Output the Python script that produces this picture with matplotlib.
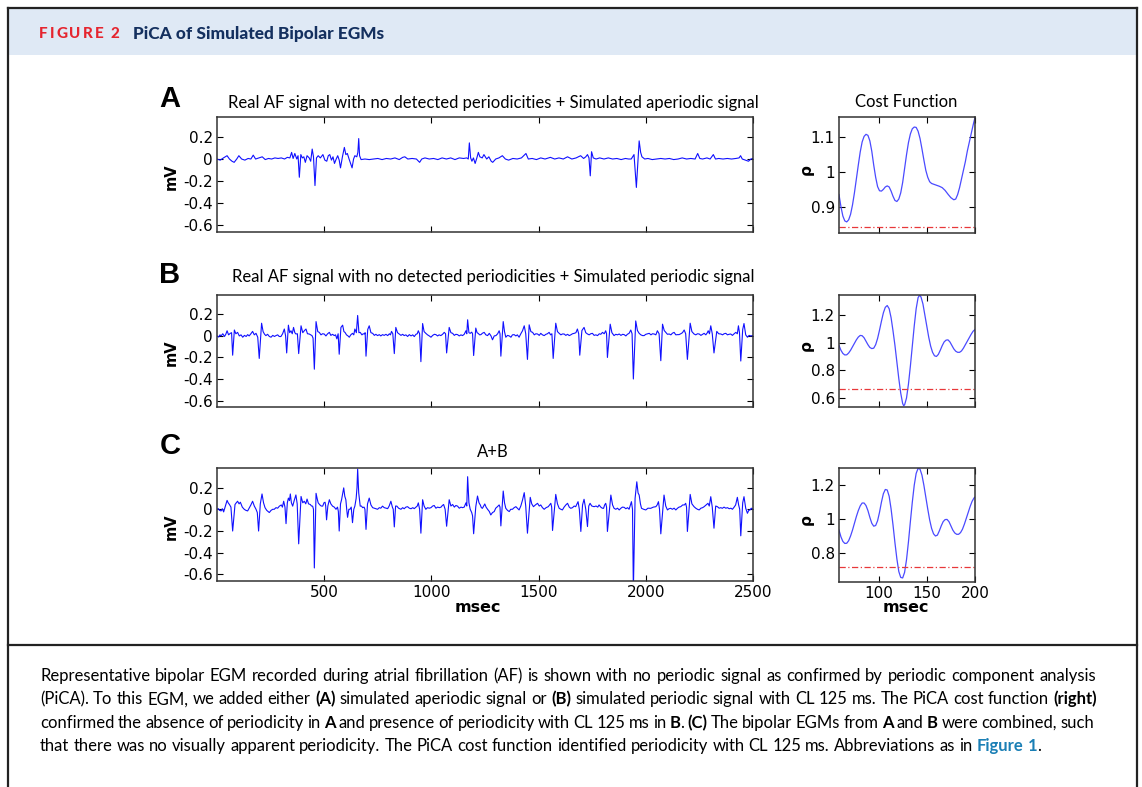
import matplotlib
matplotlib.use('Agg')
import matplotlib.pyplot as plt
from matplotlib.lines import Line2D
from matplotlib.patches import Rectangle

W, H = 1142, 787

# ---- data (t in msec, v in mV) ----
egm_a = [(0, 0.0), (15, -0.01), (30, 0.01), (47, 0.03), (58, 0.0), (70, -0.02), (80, -0.03), (92, 0.0),
         (102, 0.03), (115, 0.0), (130, -0.01), (145, 0.005), (158, 0.0), (169, 0.035), (180, 0.0), (195, 0.01),
         (211, 0.02), (225, -0.005), (240, 0.005), (255, 0.0), (270, 0.01), (285, 0.005), (300, 0.01), (315, 0.0),
         (328, 0.015), (340, 0.01), (348, 0.06), (355, 0.005), (363, 0.05), (372, 0.0), (378, 0.03), (384, -0.165),
         (391, 0.04), (398, 0.01), (405, 0.02), (412, -0.03), (420, 0.03), (430, 0.01), (437, -0.02), (444, 0.09),
         (450, 0.02), (457, -0.24), (464, 0.01), (472, 0.03), (482, 0.01), (494, 0.04), (503, -0.01), (512, -0.02),
         (519, 0.03), (526, 0.04), (534, -0.01), (541, 0.02), (548, -0.04), (556, 0.0), (563, 0.03), (570, -0.01),
         (576, -0.08), (585, 0.02), (594, 0.105), (601, 0.04), (608, 0.05), (616, 0.0), (623, -0.04), (630, -0.08),
         (637, 0.0), (643, 0.03), (652, 0.02), (657, 0.06), (661, 0.185), (665, 0.03), (672, -0.005), (690, 0.0),
         (710, -0.005), (730, 0.0), (750, 0.005), (770, -0.005), (790, 0.005), (810, 0.0), (830, 0.01), (850, -0.005),
         (866, 0.015), (876, 0.02), (890, 0.0), (910, 0.005), (930, 0.0), (945, -0.03), (955, 0.0), (970, 0.01),
         (990, 0.0), (1010, 0.005), (1030, -0.005), (1050, 0.01), (1070, 0.0), (1090, 0.01), (1110, -0.005),
         (1130, 0.01), (1150, 0.005), (1165, 0.01), (1172, 0.0), (1177, 0.146), (1183, 0.01), (1189, -0.02),
         (1196, 0.01), (1204, -0.04), (1212, 0.01), (1219, 0.06), (1226, 0.02), (1237, 0.01), (1245, 0.04),
         (1258, 0.0), (1268, 0.02), (1279, -0.02), (1286, -0.03), (1300, 0.0), (1315, 0.01), (1331, 0.03),
         (1345, 0.0), (1360, -0.01), (1380, 0.005), (1400, 0.0), (1420, 0.01), (1441, 0.05), (1452, 0.0),
         (1470, 0.005), (1490, -0.005), (1510, 0.01), (1530, 0.0), (1555, 0.015), (1575, 0.0), (1595, 0.01),
         (1615, 0.0), (1635, 0.02), (1655, 0.0), (1675, 0.01), (1696, 0.03), (1710, 0.005), (1720, 0.02),
         (1728, 0.04), (1735, 0.01), (1741, -0.152), (1747, 0.066), (1755, 0.01), (1768, 0.0), (1785, 0.01),
         (1805, 0.0), (1825, 0.01), (1845, 0.0), (1865, 0.005), (1885, -0.005), (1905, 0.005), (1920, 0.0),
         (1932, 0.0), (1945, 0.04), (1956, -0.257), (1969, 0.164), (1976, 0.06), (1982, 0.02), (1995, 0.0),
         (2010, 0.005), (2030, -0.005), (2050, 0.0), (2070, 0.005), (2090, 0.0), (2110, 0.005), (2130, -0.005),
         (2150, 0.0), (2170, 0.01), (2190, 0.0), (2210, 0.005), (2230, 0.0), (2242, 0.05), (2252, 0.005),
         (2265, 0.0), (2285, 0.01), (2300, 0.0), (2315, 0.04), (2325, 0.0), (2340, 0.005), (2360, 0.0),
         (2380, 0.005), (2400, 0.0), (2420, 0.005), (2435, 0.01), (2442, 0.03), (2450, 0.0), (2465, -0.01),
         (2479, -0.02), (2490, 0.0), (2500, 0.005)]

egm_b = [(0, 0.0), (8, -0.01), (14, 0.01), (19, 0.0), (27, 0.02), (35, -0.005), (41, 0.015), (47, 0.048),
         (54, 0.01), (62, 0.024), (68, 0.03), (73, -0.179), (81, 0.055), (88, 0.02), (96, 0.033), (104, 0.0),
         (112, 0.01), (120, -0.012), (128, 0.005), (136, -0.005), (143, 0.012), (150, 0.0), (158, 0.02),
         (166, 0.042), (174, 0.01), (182, 0.024), (190, -0.012), (197, -0.209), (208, 0.118), (215, 0.04),
         (222, 0.015), (228, 0.003), (236, 0.015), (244, -0.005), (252, -0.012), (260, 0.005), (268, -0.005),
         (275, 0.003), (283, 0.01), (290, -0.005), (298, -0.006), (306, 0.02), (314, 0.064), (320, 0.0),
         (325, -0.158), (333, 0.1), (339, 0.03), (345, 0.048), (351, 0.02), (357, 0.079), (363, 0.03),
         (368, 0.018), (375, 0.02), (381, -0.164), (392, 0.094), (400, 0.03), (408, 0.05), (415, 0.064),
         (422, 0.02), (430, 0.018), (437, 0.01), (443, 0.003), (448, -0.02), (454, -0.309), (462, 0.133),
         (470, 0.04), (477, 0.033), (485, 0.01), (492, 0.02), (500, 0.018), (508, 0.0), (516, 0.02), (524, 0.033),
         (531, 0.005), (539, 0.015), (547, 0.003), (553, 0.01), (559, -0.027), (565, 0.02), (570, -0.17),
         (578, 0.079), (586, 0.1), (592, 0.04), (597, 0.033), (604, 0.01), (611, 0.0), (617, -0.012), (624, 0.01),
         (632, 0.024), (638, 0.01), (643, 0.064), (650, 0.03), (656, 0.19), (662, 0.03), (668, 0.033), (676, 0.01),
         (682, 0.02), (687, 0.018), (691, 0.03), (695, -0.188), (703, 0.06), (710, 0.094), (718, 0.03),
         (726, 0.024), (734, 0.005), (741, 0.015), (749, 0.003), (757, 0.012), (764, 0.0), (772, 0.012),
         (780, 0.005), (788, 0.015), (796, 0.003), (804, 0.02), (809, 0.01), (814, 0.042), (820, 0.02),
         (827, -0.164), (834, 0.079), (842, 0.03), (850, 0.018), (858, 0.005), (866, 0.015), (873, 0.003),
         (881, 0.01), (889, -0.005), (897, 0.012), (905, 0.0), (913, 0.01), (920, -0.006), (928, 0.015),
         (934, 0.02), (939, 0.048), (945, 0.02), (951, -0.239), (959, 0.115), (966, 0.04), (974, 0.024),
         (982, 0.01), (990, 0.0), (998, -0.012), (1006, 0.005), (1014, 0.015), (1021, 0.012), (1029, 0.0),
         (1036, 0.01), (1044, 0.003), (1052, 0.015), (1060, 0.033), (1066, 0.02), (1071, -0.158), (1083, 0.079),
         (1091, 0.03), (1099, 0.024), (1107, 0.005), (1114, 0.015), (1122, 0.012), (1130, 0.0), (1138, 0.01),
         (1145, 0.003), (1153, 0.015), (1161, 0.048), (1165, 0.02), (1169, 0.15), (1175, 0.03), (1181, 0.024),
         (1188, 0.035), (1192, 0.02), (1197, -0.182), (1207, 0.073), (1213, 0.03), (1218, 0.024), (1225, 0.01),
         (1231, 0.012), (1238, 0.025), (1246, 0.033), (1254, 0.01), (1262, 0.003), (1270, 0.024), (1278, 0.0),
         (1285, -0.036), (1293, 0.0), (1301, 0.003), (1309, 0.02), (1316, 0.048), (1320, 0.02), (1324, -0.188),
         (1335, 0.133), (1341, 0.04), (1347, -0.012), (1355, 0.005), (1363, 0.0), (1371, -0.012), (1378, 0.01),
         (1386, 0.012), (1394, 0.0), (1401, 0.01), (1409, -0.012), (1417, 0.02), (1425, 0.048), (1433, 0.094),
         (1440, 0.02), (1448, -0.218), (1456, 0.103), (1464, 0.04), (1472, 0.033), (1480, 0.01), (1487, 0.02),
         (1495, 0.018), (1503, 0.005), (1510, 0.024), (1518, 0.01), (1526, 0.003), (1534, 0.015), (1541, 0.02),
         (1549, 0.033), (1556, 0.01), (1562, 0.02), (1568, -0.209), (1580, 0.118), (1588, 0.04), (1596, 0.024),
         (1604, 0.01), (1611, 0.018), (1619, 0.018), (1627, 0.005), (1635, 0.015), (1643, 0.003), (1650, 0.01),
         (1658, 0.02), (1666, 0.024), (1674, 0.03), (1681, 0.064), (1687, 0.02), (1692, -0.179), (1702, 0.05),
         (1712, 0.079), (1720, 0.03), (1728, 0.018), (1736, 0.01), (1743, 0.02), (1751, 0.024), (1759, 0.005),
         (1767, 0.01), (1775, 0.003), (1783, 0.02), (1790, 0.015), (1798, 0.033), (1806, 0.02), (1813, 0.048),
         (1817, 0.02), (1821, -0.2), (1834, 0.109), (1842, 0.03), (1852, 0.003), (1860, 0.015), (1868, 0.01),
         (1876, 0.018), (1884, 0.005), (1892, 0.015), (1899, 0.012), (1907, 0.0), (1914, 0.015), (1922, 0.024),
         (1930, 0.055), (1936, 0.02), (1942, -0.4), (1953, 0.139), (1961, 0.05), (1969, 0.024), (1977, 0.01),
         (1985, 0.003), (1992, 0.003), (2000, 0.015), (2008, 0.02), (2016, 0.024), (2024, 0.01), (2031, 0.02),
         (2039, 0.018), (2047, 0.01), (2054, 0.048), (2062, 0.02), (2070, -0.23), (2078, 0.109), (2086, 0.05),
         (2093, 0.033), (2101, 0.015), (2109, 0.018), (2117, 0.01), (2124, 0.025), (2132, 0.033), (2140, 0.01),
         (2148, 0.012), (2155, 0.012), (2163, 0.02), (2171, 0.03), (2179, 0.055), (2186, 0.02), (2194, -0.218),
         (2207, 0.118), (2215, 0.04), (2225, 0.018), (2233, 0.01), (2241, 0.02), (2249, 0.018), (2257, 0.005),
         (2265, 0.015), (2272, 0.024), (2280, 0.01), (2287, 0.03), (2291, 0.048), (2297, 0.02), (2303, 0.094),
         (2310, 0.02), (2318, -0.158), (2331, 0.042), (2340, 0.02), (2350, 0.018), (2358, 0.01), (2365, 0.02),
         (2373, 0.024), (2381, 0.01), (2388, 0.015), (2396, 0.018), (2404, 0.005), (2412, 0.02), (2420, 0.033),
         (2427, 0.02), (2432, 0.094), (2437, 0.03), (2443, -0.233), (2452, 0.06), (2458, 0.115), (2466, 0.01),
         (2474, -0.012), (2482, 0.005), (2490, 0.0), (2497, 0.003), (2500, 0.0)]

egm_c = [(0, 0.0), (6, 0.006), (12, -0.01), (19, -0.015), (25, 0.005), (31, -0.024), (39, 0.03), (47, 0.082),
         (52, 0.06), (58, 0.044), (65, 0.02), (73, -0.2), (84, 0.044), (90, 0.06), (96, 0.074), (103, 0.05),
         (109, 0.065), (118, 0.02), (127, 0.0), (135, -0.01), (143, -0.015), (150, 0.01), (158, 0.04), (166, 0.074),
         (174, 0.03), (182, 0.0), (188, -0.03), (194, -0.2), (202, 0.05), (210, 0.141), (217, 0.06), (224, 0.015),
         (232, -0.01), (238, -0.02), (244, -0.03), (252, -0.01), (260, 0.0), (267, 0.0), (275, 0.015), (283, 0.01),
         (291, 0.029), (300, 0.04), (305, 0.02), (311, 0.074), (317, 0.02), (322, -0.132), (328, 0.06), (333, 0.103),
         (338, 0.08), (342, 0.141), (347, 0.06), (353, 0.029), (360, 0.08), (368, 0.132), (374, 0.05), (381, -0.318),
         (392, 0.118), (400, 0.06), (407, 0.074), (414, 0.05), (420, 0.094), (427, 0.05), (435, 0.044), (441, 0.03),
         (446, 0.029), (450, 0.0), (454, -0.54), (462, 0.147), (467, 0.1), (472, 0.059), (480, 0.04), (486, 0.03),
         (493, 0.029), (499, 0.06), (504, 0.065), (507, 0.03), (511, -0.097), (517, 0.03), (524, 0.088), (531, 0.05),
         (539, 0.029), (547, 0.02), (555, 0.0), (562, 0.02), (566, -0.02), (570, -0.2), (576, 0.05), (581, 0.088),
         (586, 0.14), (591, 0.197), (596, 0.12), (601, 0.088), (605, 0.0), (609, -0.074), (615, 0.0), (620, 0.0),
         (626, 0.02), (632, -0.123), (638, 0.0), (643, 0.029), (649, 0.1), (653, 0.2), (656, 0.37), (661, 0.15),
         (668, 0.029), (674, 0.03), (679, 0.015), (686, 0.02), (690, 0.0), (695, -0.185), (702, 0.05), (710, 0.103),
         (718, 0.04), (726, 0.015), (734, 0.01), (741, 0.005), (749, 0.0), (757, 0.015), (764, 0.01), (772, 0.029),
         (780, 0.015), (788, 0.01), (796, 0.006), (803, 0.03), (811, 0.074), (818, 0.02), (822, 0.0), (827, -0.162),
         (833, 0.03), (839, 0.029), (847, 0.01), (858, 0.0), (866, 0.015), (873, 0.005), (881, 0.02), (889, 0.024),
         (897, 0.01), (905, 0.005), (913, 0.015), (920, 0.006), (928, 0.02), (934, 0.03), (939, 0.059), (945, 0.0),
         (951, -0.22), (959, 0.088), (966, 0.03), (974, 0.0), (982, 0.015), (990, 0.01), (998, 0.015), (1006, 0.03),
         (1013, 0.035), (1021, 0.01), (1029, 0.02), (1037, 0.015), (1045, 0.02), (1051, 0.035), (1057, 0.044),
         (1064, 0.0), (1071, -0.156), (1083, 0.088), (1091, 0.03), (1099, 0.044), (1107, 0.02), (1114, 0.035),
         (1122, 0.029), (1130, 0.01), (1138, 0.02), (1145, 0.015), (1153, 0.02), (1161, 0.059), (1165, 0.03),
         (1169, 0.3), (1175, 0.06), (1181, 0.0), (1188, -0.03), (1192, -0.06), (1197, -0.225), (1207, 0.024),
         (1215, 0.122), (1222, 0.06), (1228, 0.04), (1233, 0.015), (1238, 0.009), (1244, 0.03), (1249, 0.049),
         (1255, 0.02), (1262, 0.0), (1270, -0.02), (1277, -0.052), (1285, -0.03), (1293, -0.021), (1300, 0.01),
         (1308, 0.024), (1316, 0.04), (1320, 0.02), (1324, -0.153), (1335, 0.168), (1341, 0.06), (1347, 0.009),
         (1355, -0.01), (1363, -0.021), (1370, 0.0), (1378, 0.0), (1386, 0.015), (1394, 0.024), (1401, 0.01),
         (1409, -0.006), (1417, 0.03), (1425, 0.085), (1433, 0.153), (1440, 0.03), (1448, -0.22), (1461, 0.11),
         (1468, 0.05), (1476, 0.024), (1485, 0.04), (1495, 0.055), (1503, 0.03), (1510, 0.04), (1518, 0.015),
         (1526, 0.0), (1535, 0.015), (1545, 0.024), (1551, 0.04), (1557, 0.055), (1561, 0.02), (1565, -0.195),
         (1580, 0.137), (1588, 0.05), (1596, 0.009), (1604, 0.0), (1611, -0.006), (1619, 0.02), (1627, 0.04),
         (1635, 0.055), (1643, 0.02), (1650, 0.009), (1658, 0.015), (1666, 0.03), (1673, 0.024), (1679, 0.05),
         (1684, 0.07), (1690, 0.0), (1697, -0.204), (1705, 0.04), (1712, 0.092), (1720, 0.0), (1728, -0.159),
         (1734, 0.03), (1740, 0.055), (1748, 0.03), (1759, 0.024), (1768, 0.03), (1776, 0.02), (1782, 0.04),
         (1790, 0.02), (1797, 0.01), (1803, 0.009), (1808, 0.04), (1813, 0.055), (1817, 0.02), (1821, -0.204),
         (1837, 0.131), (1845, 0.04), (1852, 0.009), (1860, 0.0), (1868, 0.01), (1876, -0.006), (1884, 0.01),
         (1891, 0.02), (1899, 0.018), (1907, 0.005), (1915, 0.015), (1922, 0.0), (1928, 0.04), (1933, 0.07),
         (1938, 0.0), (1942, -0.75), (1950, 0.1), (1958, 0.253), (1964, 0.15), (1969, 0.131), (1975, 0.05),
         (1980, 0.009), (1990, 0.0), (2000, -0.006), (2010, 0.01), (2023, 0.009), (2035, 0.02), (2047, 0.024),
         (2053, 0.04), (2059, 0.07), (2064, 0.0), (2070, -0.226), (2085, 0.131), (2093, 0.03), (2101, -0.006),
         (2108, 0.005), (2116, 0.009), (2124, 0.0), (2132, 0.01), (2140, -0.006), (2148, 0.01), (2155, 0.02),
         (2163, 0.024), (2172, 0.04), (2180, 0.04), (2186, 0.055), (2190, 0.02), (2194, -0.204), (2207, 0.137),
         (2215, 0.05), (2225, 0.024), (2233, 0.01), (2241, 0.0), (2249, -0.006), (2257, 0.01), (2265, 0.015),
         (2272, 0.024), (2281, 0.04), (2290, 0.055), (2296, 0.03), (2303, 0.116), (2310, 0.02), (2318, -0.174),
         (2326, 0.03), (2334, 0.024), (2342, 0.01), (2350, 0.015), (2357, 0.009), (2365, 0.02), (2373, 0.01),
         (2381, 0.015), (2389, 0.005), (2397, 0.01), (2404, 0.0), (2412, 0.02), (2419, 0.04), (2427, 0.11),
         (2433, 0.04), (2438, 0.0), (2443, -0.244), (2452, 0.06), (2458, 0.116), (2466, 0.01), (2474, -0.037),
         (2480, -0.01), (2486, -0.006), (2492, 0.01), (2497, 0.0), (2500, 0.005)]

# PiCA cost function (lag in msec, rho)
cost_a = [(59, 0.935), (61, 0.90), (63, 0.873), (65, 0.859), (67, 0.856), (69, 0.862), (71, 0.878), (73, 0.905),
          (75, 0.94), (77, 0.98), (79, 1.02), (81, 1.058), (83, 1.087), (85, 1.103), (87, 1.109), (89, 1.106),
          (91, 1.09), (93, 1.06), (95, 1.02), (97, 0.985), (99, 0.958), (101, 0.946), (103, 0.945), (105, 0.95),
          (107, 0.957), (109, 0.96), (111, 0.957), (113, 0.945), (115, 0.93), (117, 0.918), (119, 0.915),
          (121, 0.922), (123, 0.94), (125, 0.97), (127, 1.01), (129, 1.05), (131, 1.085), (133, 1.11), (135, 1.125),
          (137, 1.13), (139, 1.129), (141, 1.118), (143, 1.097), (145, 1.067), (147, 1.035), (149, 1.005),
          (151, 0.985), (153, 0.972), (155, 0.967), (157, 0.965), (160, 0.962), (163, 0.959), (166, 0.955),
          (169, 0.947), (172, 0.936), (175, 0.926), (178, 0.92), (180, 0.922), (182, 0.935), (184, 0.955),
          (186, 0.98), (188, 1.005), (190, 1.03), (192, 1.06), (194, 1.085), (196, 1.11), (198, 1.135), (200, 1.158)]

cost_b = [(59, 0.98), (61, 0.945), (63, 0.922), (65, 0.911), (67, 0.912), (69, 0.925), (71, 0.945), (73, 0.97),
          (75, 0.995), (77, 1.02), (79, 1.04), (81, 1.052), (83, 1.05), (85, 1.035), (87, 1.01), (89, 0.985),
          (91, 0.965), (93, 0.957), (95, 0.96), (97, 0.985), (99, 1.03), (101, 1.09), (103, 1.155), (105, 1.215),
          (107, 1.255), (109, 1.268), (111, 1.245), (113, 1.18), (115, 1.085), (117, 0.98), (119, 0.86), (121, 0.74),
          (123, 0.635), (125, 0.56), (126, 0.545), (127, 0.55), (129, 0.6), (131, 0.7), (133, 0.83), (135, 0.975),
          (137, 1.12), (139, 1.245), (141, 1.325), (142.5, 1.342), (144, 1.33), (146, 1.28), (148, 1.2), (150, 1.12),
          (152, 1.04), (154, 0.975), (156, 0.93), (158, 0.905), (160, 0.9), (162, 0.915), (164, 0.945), (166, 0.978),
          (168, 1.005), (170, 1.018), (172, 1.02), (174, 1.005), (176, 0.98), (178, 0.955), (180, 0.938),
          (182, 0.93), (184, 0.93), (186, 0.94), (188, 0.96), (190, 0.985), (192, 1.01), (194, 1.035), (196, 1.06),
          (198, 1.082), (200, 1.095)]

cost_c = [(59, 0.935), (61, 0.895), (63, 0.868), (65, 0.856), (67, 0.857), (69, 0.872), (71, 0.9), (73, 0.935),
          (75, 0.975), (77, 1.015), (79, 1.05), (81, 1.078), (83, 1.095), (85, 1.095), (87, 1.08), (89, 1.05),
          (91, 1.01), (93, 0.975), (95, 0.958), (97, 0.962), (99, 0.99), (101, 1.04), (103, 1.1), (105, 1.15),
          (107, 1.175), (109, 1.172), (111, 1.135), (113, 1.06), (115, 0.965), (117, 0.86), (119, 0.765),
          (121, 0.69), (123, 0.655), (125, 0.652), (127, 0.685), (129, 0.76), (131, 0.865), (133, 0.985), (135, 1.1),
          (137, 1.2), (139, 1.27), (141, 1.3), (143, 1.295), (145, 1.26), (147, 1.2), (149, 1.13), (151, 1.06),
          (153, 0.995), (155, 0.945), (157, 0.913), (159, 0.9), (161, 0.905), (163, 0.93), (165, 0.96), (167, 0.985),
          (169, 0.997), (171, 0.998), (173, 0.985), (175, 0.96), (177, 0.935), (179, 0.918), (181, 0.91), (183, 0.91),
          (185, 0.92), (187, 0.94), (189, 0.97), (191, 1.005), (193, 1.04), (195, 1.075), (197, 1.105), (199, 1.125),
          (200, 1.13)]

thresholds = [0.841, 0.665, 0.717]

panel_titles = ['Real AF signal with no detected periodicities + Simulated aperiodic signal',
                'Real AF signal with no detected periodicities + Simulated periodic signal',
                'A+B']
panel_letters = ['A', 'B', 'C']

egm_yticks = [-0.6, -0.4, -0.2, 0, 0.2]
egm_yticklabels = ['-0.6', '-0.4', '-0.2', '0', '0.2']
egm_xticks = [500, 1000, 1500, 2000, 2500]
cost_yticks = [[0.9, 1, 1.1], [0.6, 0.8, 1, 1.2], [0.8, 1, 1.2]]
cost_yticklabels = [['0.9', '1', '1.1'], ['0.6', '0.8', '1', '1.2'], ['0.8', '1', '1.2']]
cost_ylims = [(0.824, 1.159), (0.535, 1.344), (0.628, 1.302)]
cost_xticks = [100, 150, 200]

caption_lines = [
    [("Representative bipolar EGM recorded during atrial fibrillation (AF) is shown with no periodic signal "
      "as confirmed by periodic component analysis", False, 'k')],
    [("(PiCA). To this EGM, we added either ", False, 'k'), ("(A)", True, 'k'),
     (" simulated aperiodic signal or ", False, 'k'), ("(B)", True, 'k'),
     (" simulated periodic signal with CL 125 ms. The PiCA cost function ", False, 'k'), ("(right)", True, 'k')],
    [("confirmed the absence of periodicity in ", False, 'k'), ("A", True, 'k'),
     (" and presence of periodicity with CL 125 ms in ", False, 'k'), ("B", True, 'k'), (". ", False, 'k'),
     ("(C)", True, 'k'), (" The bipolar EGMs from ", False, 'k'), ("A", True, 'k'), (" and ", False, 'k'),
     ("B", True, 'k'), (" were combined, such", False, 'k')],
    [("that there was no visually apparent periodicity. The PiCA cost function identified periodicity "
      "with CL 125 ms. Abbreviations as in ", False, 'k'), ("Figure 1", True, '#1a7fb5'), (".", False, 'k')],
]
caption_widths = [1056, 1057, 1054, 1001]

# ---- figure ----
fig = plt.figure(figsize=(W / 100, H / 100), dpi=100)
fig.patch.set_facecolor('white')
renderer = fig.canvas.get_renderer()
SANS = 'Lato'


def fx(x):
    return x / W


def fy(y):
    return 1 - y / H


def box(l, t, r, b):
    return [l / W, 1 - b / H, (r - l) / W, (b - t) / H]


def measure(s, **kw):
    t = fig.text(0, 0, s, **kw)
    w = t.get_window_extent(renderer).width
    t.remove()
    return w


def advance(s, **kw):
    # width including leading/trailing spaces
    return measure('|' + s + '|', **kw) - measure('||', **kw)


def fit_size(s, target, **kw):
    return 12 * target / measure(s, fontsize=12, **kw)


def runs_width(runs, size, family):
    return sum(advance(s, fontsize=size, family=family, fontweight='bold' if b else 'normal')
               for s, b, c in runs)


def split_words(runs):
    words, cur = [], []
    for s, b, c in runs:
        for j, p in enumerate(s.split(' ')):
            if j > 0 and cur:
                words.append(cur)
                cur = []
            if p:
                cur.append((p, b, c))
    if cur:
        words.append(cur)
    return words


def put_justified(x, y, runs, size, family, width):
    words = split_words(runs)
    kws = lambda b: dict(fontsize=size, family=family, fontweight='bold' if b else 'normal')
    wl = [sum(advance(p, **kws(b)) for p, b, c in w) for w in words]
    gap = (width - sum(wl)) / (len(words) - 1)
    for w, ww in zip(words, wl):
        xx = x
        for p, b, c in w:
            fig.text(fx(xx), fy(y), p, color=c, ha='left', va='baseline', **kws(b))
            xx += advance(p, **kws(b))
        x += ww + gap


# frame and header band
fig.add_artist(Rectangle((fx(9), fy(55)), 1128 / W, 46 / H, transform=fig.transFigure,
                         facecolor='#dfe9f5', edgecolor='none', zorder=0))
for (x0, y0, x1, y1) in [(8, 8, 1137, 8), (8, 8, 8, 787), (1137, 8, 1137, 787), (8, 645, 1137, 645)]:
    fig.add_artist(Line2D([fx(x0), fx(x1)], [fy(y0), fy(y1)], transform=fig.transFigure,
                          color='#222222', lw=1.6))

# header text ("FIGURE 2" letter-spaced)
hx = 39
for ch in 'FIGURE 2':
    fig.text(fx(hx), fy(38.5), ch, fontsize=11, family=SANS, fontweight='black', color='#e5252f',
             ha='left', va='baseline')
    hx += advance(ch, fontsize=11, family=SANS, fontweight='black') + 2.0
hsize = fit_size('PiCA of Simulated Bipolar EGMs', 252, family=SANS, fontweight='black')
fig.text(fx(133), fy(38.5), 'PiCA of Simulated Bipolar EGMs', fontsize=hsize, family=SANS,
         fontweight='black', color='#14305f', ha='left', va='baseline')

# panel geometry in px: (top, bottom)
rows = [(117, 232), (295, 407), (468, 581)]
title_base = [108, 282, 457]
letter_base = [107, 283, 454]
egms = [egm_a, egm_b, egm_c]
costs = [cost_a, cost_b, cost_c]

tsize = fit_size(panel_titles[0], 528, family=SANS)

for i in range(3):
    top, bot = rows[i]
    ax = fig.add_axes(box(217, top, 753, bot))
    t, v = zip(*egms[i])
    ax.plot(t, v, color='#1010ff', lw=0.8)
    ax.set_xlim(0, 2500)
    ax.set_ylim(-0.66, 0.38)
    ax.set_yticks(egm_yticks)
    ax.set_yticklabels(egm_yticklabels)
    ax.set_xticks(egm_xticks)
    ax.tick_params(direction='in', top=True, right=True, length=4, width=0.8,
                   labelsize=11, pad=3, labelbottom=(i == 2))
    for sp in ax.spines.values():
        sp.set_linewidth(1.1)
        sp.set_color('#333333')

    cax = fig.add_axes(box(839, top, 975, bot + (1 if i != 1 else 0)))
    c, r = zip(*costs[i])
    cax.plot(c, r, color='#4a4aff', lw=0.9)
    cax.axhline(thresholds[i], color='#e8383a', lw=0.9, dashes=(5, 2, 1, 2))
    cax.set_xlim(59, 200)
    cax.set_ylim(*cost_ylims[i])
    cax.set_yticks(cost_yticks[i])
    cax.set_yticklabels(cost_yticklabels[i])
    cax.set_xticks(cost_xticks)
    cax.tick_params(direction='in', top=True, right=True, length=4, width=0.8,
                    labelsize=11, pad=3, labelbottom=(i == 2))
    for sp in cax.spines.values():
        sp.set_linewidth(1.1)
        sp.set_color('#333333')

    # labels
    fig.text(fx(493), fy(title_base[i]), panel_titles[i], fontsize=tsize, family=SANS,
             ha='center', va='baseline')
    fig.text(fx(170), fy(letter_base[i]), panel_letters[i], fontsize=21, family='Liberation Sans',
             fontweight='bold', ha='center', va='baseline')
    yc = (top + bot) / 2
    fig.text(fx(171), fy(yc + 2), 'mV', fontsize=10.5, fontweight='bold', rotation=90,
             ha='center', va='center')
    fig.text(fx(806), fy(yc - 5), 'ρ', fontsize=11, fontweight='bold', rotation=90,
             ha='center', va='center')

fig.text(fx(906), fy(107), 'Cost Function', fontsize=tsize, family=SANS, ha='center', va='baseline')
fig.text(fx(478), fy(612), 'msec', fontsize=11.5, fontweight='bold', ha='center', va='baseline')
fig.text(fx(906), fy(612), 'msec', fontsize=11.5, fontweight='bold', ha='center', va='baseline')

# caption: one font size, each line spread to the width it has in the reference
fits = [12 * caption_widths[k] / runs_width(r, 12, SANS) for k, r in enumerate(caption_lines)]
csize = sum(fits) / len(fits)
for k, runs in enumerate(caption_lines):
    put_justified(40, 681 + k * 23.4, runs, csize, SANS, caption_widths[k])

fig.savefig('out.png', dpi=100)
